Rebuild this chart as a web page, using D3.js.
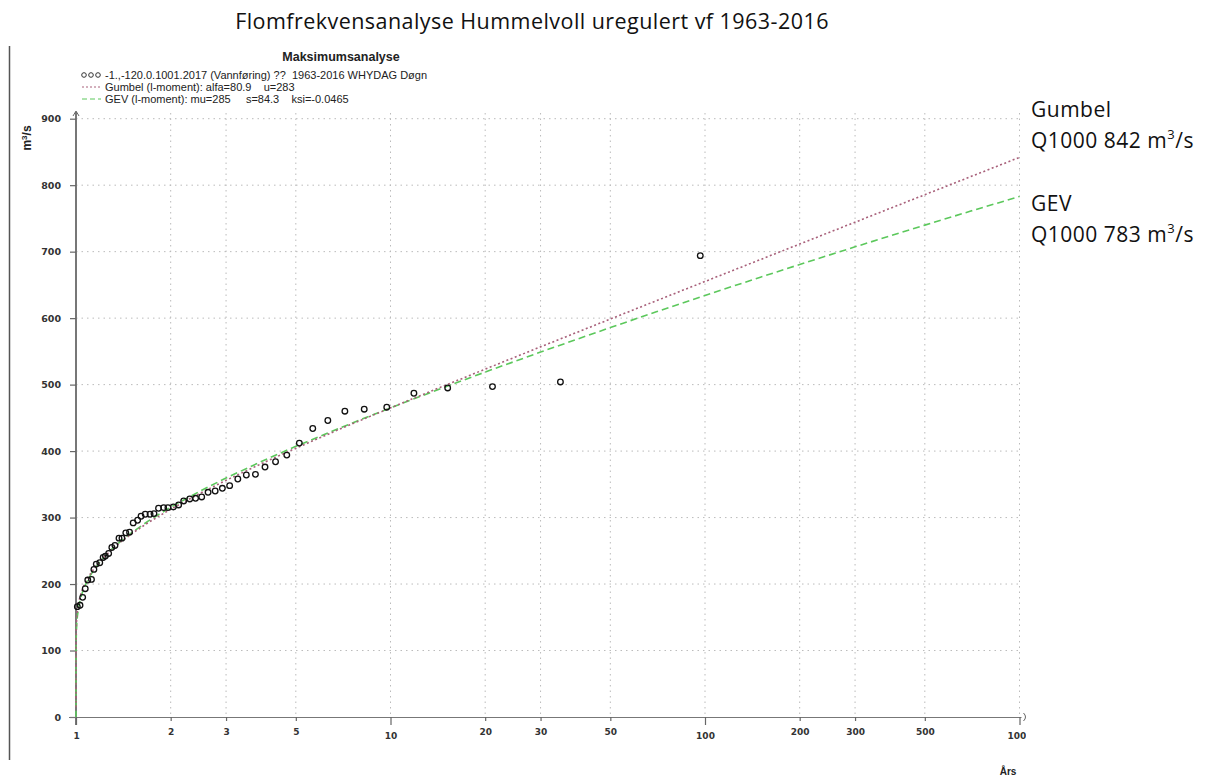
<!DOCTYPE html>
<html>
<head>
<meta charset="utf-8">
<script src="https://cdn.jsdelivr.net/npm/d3@7"></script>
<style>
  body { margin: 0; background: #fff; }
  svg { display: block; }
</style>
</head>
<body>
<div id="chart"></div>
<script>
// Flood frequency chart, Hummelvoll

const width = 1211;
const height = 778;

// observed annual maxima, sorted largest first (m3/s)
const flows = [694, 504, 497, 495, 487, 466, 463, 460, 446, 434,
  412, 394, 384, 376, 365, 364, 358, 348, 344, 340,
  338, 331, 329, 328, 325, 319, 316, 315, 315, 314,
  306, 305, 305, 302, 296, 292, 278, 277, 269, 269,
  258, 255, 246, 242, 240, 232, 230, 222, 207, 206,
  193, 180, 168, 166];

// plotting position (return period, years) of each point above
const returnPeriods = [96.6, 34.7, 21.1, 15.2, 11.87, 9.73, 8.25, 7.16, 6.32, 5.66,
  5.13, 4.68, 4.31, 3.99, 3.72, 3.48, 3.27, 3.08, 2.92, 2.77,
  2.63, 2.51, 2.40, 2.30, 2.20, 2.12, 2.04, 1.96, 1.90, 1.83,
  1.77, 1.72, 1.66, 1.61, 1.57, 1.52, 1.48, 1.44, 1.40, 1.37,
  1.33, 1.30, 1.27, 1.24, 1.22, 1.19, 1.16, 1.14, 1.12, 1.09,
  1.07, 1.05, 1.03, 1.01];

// fitted distributions (l-moments), from the legend
const gumbelParams = {alfa: 80.9, u: 283};
const gevParams = {mu: 285, s: 84.3, ksi: -0.0465};

const xTicks = [1, 2, 3, 5, 10, 20, 30, 50, 100, 200, 300, 500, 1000];
const yTicks = [0, 100, 200, 300, 400, 500, 600, 700, 800, 900];

const legendLabels = [
  "-1.,-120.0.1001.2017 (Vannføring) ??  1963-2016 WHYDAG Døgn",
  "Gumbel (l-moment): alfa=80.9    u=283",
  "GEV (l-moment): mu=285     s=84.3    ksi=-0.0465"
];

const svg = d3.select("#chart")
  .append("svg")
  .attr("width", width)
  .attr("height", height);

const x = d3.scaleLog().domain([1, 1000]).range([76, 1019.5]);
const y = d3.scaleLinear().domain([0, 900]).range([717, 118.7]);

// title
svg.append("text")
  .attr("x", 532)
  .attr("y", 29)
  .attr("text-anchor", "middle")
  .attr("font-family", "'Open Sans', sans-serif")
  .attr("font-size", "21.5px")
  .attr("letter-spacing", "0.45px")
  .attr("fill", "#111")
  .text("Flomfrekvensanalyse Hummelvoll uregulert vf 1963-2016");

// left frame line
svg.append("line")
  .attr("x1", 9.5).attr("x2", 9.5)
  .attr("y1", 46).attr("y2", 760)
  .attr("stroke", "#555")
  .attr("stroke-width", 1.5);

// grid
svg.append("g")
  .selectAll("line")
  .data(yTicks.slice(1))
  .join("line")
    .attr("x1", x(1)).attr("x2", x(1000))
    .attr("y1", d => y(d)).attr("y2", d => y(d))
    .attr("stroke", "#bbb")
    .attr("stroke-dasharray", "1.5,4");

svg.append("g")
  .selectAll("line")
  .data(xTicks.slice(1))
  .join("line")
    .attr("x1", d => x(d)).attr("x2", d => x(d))
    .attr("y1", 113).attr("y2", y(0))
    .attr("stroke", "#bbb")
    .attr("stroke-dasharray", "1.5,4");

// axes
const yAxis = svg.append("g")
  .attr("transform", `translate(${x(1)},0)`)
  .call(d3.axisLeft(y).tickValues(yTicks).tickSize(6).tickSizeOuter(0).tickPadding(9));

yAxis.select(".domain").attr("stroke", "#777").attr("stroke-width", 2)
  .attr("d", `M0,${y(0) + 8}V112`);
yAxis.selectAll(".tick line").attr("stroke", "#666").attr("stroke-width", 1.2);
yAxis.selectAll(".tick text")
  .attr("font-family", "'DejaVu Sans', sans-serif")
  .attr("font-weight", "bold")
  .attr("font-size", "9.5px")
  .attr("fill", "#333");

const xAxis = svg.append("g")
  .attr("transform", `translate(0,${y(0)})`)
  .call(d3.axisBottom(x).tickValues(xTicks).tickFormat(d => d).tickSize(4).tickSizeOuter(0).tickPadding(8));

xAxis.select(".domain").attr("stroke", "#777").attr("stroke-width", 2)
  .attr("d", `M69,0H${x(1000) + 2}`);
xAxis.selectAll(".tick line")
  .attr("stroke", "#666").attr("stroke-width", 1.2)
  .attr("y1", -3)
  .attr("y2", d => [1, 10, 100, 1000].includes(d) ? 8 : 4);
xAxis.selectAll(".tick text")
  .attr("font-family", "'DejaVu Sans', sans-serif")
  .attr("font-weight", "bold")
  .attr("font-size", "9px")
  .attr("fill", "#333")
  .attr("dy", d => [1, 10, 100, 1000].includes(d) ? "1.1em" : "0.71em");

// the 1000 label is cut by the frame edge
svg.append("clipPath").attr("id", "edge")
  .append("rect").attr("x", 0).attr("y", 0).attr("width", 1026).attr("height", height);
xAxis.attr("clip-path", "url(#edge)");

// axis arrow heads
svg.append("path")
  .attr("d", `M${x(1) - 3},${116} L${x(1)},${111} L${x(1) + 3},${116}`)
  .attr("fill", "none").attr("stroke", "#666").attr("stroke-width", 1);
svg.append("path")
  .attr("d", `M${x(1000) + 4},${y(0) - 4} Q${x(1000) + 8},${y(0)} ${x(1000) + 4},${y(0) + 4}`)
  .attr("fill", "none").attr("stroke", "#666").attr("stroke-width", 1);

// axis titles
svg.append("text")
  .attr("transform", "translate(31,138) rotate(-90)")
  .attr("text-anchor", "middle")
  .attr("font-family", "'Liberation Sans', Arial, sans-serif")
  .attr("font-weight", "bold")
  .attr("font-size", "12px")
  .attr("fill", "#222")
  .html("m<tspan dy='-4' font-size='8px'>3</tspan><tspan dy='4'>/s</tspan>");

svg.append("text")
  .attr("x", 1008)
  .attr("y", 775)
  .attr("text-anchor", "middle")
  .attr("font-family", "'Liberation Sans', Arial, sans-serif")
  .attr("font-weight", "bold")
  .attr("font-size", "10px")
  .attr("fill", "#222")
  .text("Års");

// fitted curves
svg.append("clipPath").attr("id", "plot")
  .append("rect")
  .attr("x", x(1) - 1).attr("y", 100)
  .attr("width", x(1000) - x(1) + 2).attr("height", y(0) - 100);

const curveT = [1 + 1e-12, 1 + 1e-9, 1 + 1e-6, 1 + 1e-4, 1.001, 1.003, 1.006, 1.01, 1.02, 1.03, 1.05, 1.07, 1.1, 1.15, 1.2,
  1.3, 1.4, 1.5, 1.7, 2, 2.5, 3, 4, 5, 7, 10, 15, 20, 30, 50, 70, 100, 150, 200, 300, 500, 700, 1000];

function gumbel(T) {
  const F = 1 - 1 / T;
  return gumbelParams.u - gumbelParams.alfa * Math.log(-Math.log(F));
}

function gev(T) {
  const F = 1 - 1 / T;
  const k = -gevParams.ksi;
  return gevParams.mu + gevParams.s / k * (1 - Math.pow(-Math.log(F), k));
}

const line = d3.line()
  .x(d => x(d[0]))
  .y(d => y(d[1]));

svg.append("path")
  .datum(curveT.map(T => [T, Math.max(-50, gev(T))]))
  .attr("clip-path", "url(#plot)")
  .attr("fill", "none")
  .attr("stroke", "#5cc85c")
  .attr("stroke-width", 1.6)
  .attr("stroke-dasharray", "7,4")
  .attr("d", line);

svg.append("path")
  .datum(curveT.map(T => [T, Math.max(-50, gumbel(T))]))
  .attr("clip-path", "url(#plot)")
  .attr("fill", "none")
  .attr("stroke", "#a8607a")
  .attr("stroke-width", 1.6)
  .attr("stroke-dasharray", "2,2.5")
  .attr("d", line);

// observed points
svg.append("g")
  .selectAll("circle")
  .data(flows)
  .join("circle")
    .attr("cx", (d, i) => x(returnPeriods[i]))
    .attr("cy", d => y(d))
    .attr("r", 2.8)
    .attr("fill", "none")
    .attr("stroke", "#111")
    .attr("stroke-width", 1.3);

// legend
svg.append("text")
  .attr("x", 341)
  .attr("y", 61)
  .attr("text-anchor", "middle")
  .attr("font-family", "'Liberation Sans', Arial, sans-serif")
  .attr("font-weight", "bold")
  .attr("font-size", "12.5px")
  .attr("fill", "#222")
  .text("Maksimumsanalyse");

const legendY = [75, 87, 99];

const legend = svg.append("g");
legend.selectAll("text")
  .data(legendLabels)
  .join("text")
    .attr("x", 105)
    .attr("y", (d, i) => legendY[i] + 4)
    .attr("font-family", "'Liberation Sans', Arial, sans-serif")
    .attr("font-size", "11px")
    .attr("fill", "#222")
    .style("white-space", "pre")
    .text(d => d);

legend.selectAll("circle")
  .data([84, 91, 98])
  .join("circle")
    .attr("cx", d => d)
    .attr("cy", legendY[0])
    .attr("r", 2.3)
    .attr("fill", "none")
    .attr("stroke", "#333")
    .attr("stroke-width", 1);

legend.append("line")
  .attr("x1", 82).attr("x2", 101)
  .attr("y1", legendY[1]).attr("y2", legendY[1])
  .attr("stroke", "#a8607a").attr("stroke-dasharray", "2,2");

legend.append("line")
  .attr("x1", 82).attr("x2", 101)
  .attr("y1", legendY[2]).attr("y2", legendY[2])
  .attr("stroke", "#5cc85c").attr("stroke-dasharray", "5,3");

// Q1000 annotations on the right
const notes = [
  {y: 117, parts: ["Gumbel"]},
  {y: 148, parts: ["Q1000 842 m", "3", "/s"]},
  {y: 211, parts: ["GEV"]},
  {y: 242, parts: ["Q1000 783 m", "3", "/s"]}
];

notes.forEach(n => {
  const t = svg.append("text")
    .attr("x", 1031)
    .attr("y", n.y)
    .attr("font-family", "'Open Sans', sans-serif")
    .attr("font-size", "21px")
    .attr("letter-spacing", "0.5px")
    .attr("fill", "#111");
  t.append("tspan").text(n.parts[0]);
  if (n.parts.length > 1) {
    t.append("tspan").attr("dy", -9).attr("font-size", "13px").text(n.parts[1]);
    t.append("tspan").attr("dy", 9).text(n.parts[2]);
  }
});
</script>
</body>
</html>
